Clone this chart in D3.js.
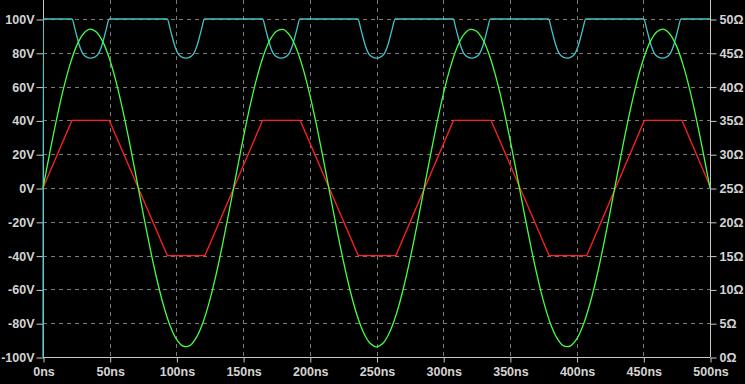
<!DOCTYPE html>
<html>
<head>
<meta charset="utf-8">
<script src="https://cdn.jsdelivr.net/npm/d3@7"></script>
<style>
  html, body { margin: 0; padding: 0; background: #000; }
  svg { display: block; }
  .tick text { font-family: "Liberation Sans", Arial, sans-serif; font-weight: bold; font-size: 12.5px; fill: #d4d4d4; }
</style>
</head>
<body>
<div id="chart"></div>
<script>
// time axis (ns) and the two value axes
const timeTicks = [0, 50, 100, 150, 200, 250, 300, 350, 400, 450, 500];
const voltTicks = [-100, -80, -60, -40, -20, 0, 20, 40, 60, 80, 100];
const ohmTicks = [0, 5, 10, 15, 20, 25, 30, 35, 40, 45, 50];

// green trace: V, sampled every 5ns from 0 to 500ns
const greenStep = 5;
const greenValues = [
  0, 20.5, 40.0, 57.6, 72.4, 83.8, 91.0, 94.0, 92.3, 86.3,
  76.0, 62.2, 45.3, 26.2, 5.9, -14.7, -34.6, -52.8, -68.5, -80.9,
  -89.4, -93.6, -93.3, -88.4, -79.4, -66.5, -50.4, -31.8, -11.8, 8.8,
  29.0, 47.8, 64.3, 77.7, 87.4, 92.8, 93.8, 90.3, 82.4, 70.5,
  55.3, 37.3, 17.6, -3.0, -23.4, -42.7, -59.9, -74.3, -85.1, -91.7,
  -94.0, -91.7, -85.1, -74.3, -59.9, -42.7, -23.4, -3.0, 17.6, 37.3,
  55.3, 70.5, 82.4, 90.3, 93.8, 92.8, 87.4, 77.7, 64.3, 47.8,
  29.0, 8.8, -11.8, -31.8, -50.4, -66.5, -79.4, -88.4, -93.3, -93.6,
  -89.4, -80.9, -68.5, -52.8, -34.6, -14.7, 5.9, 26.2, 45.3, 62.2,
  76.0, 86.3, 92.3, 94.0, 91.0, 83.8, 72.4, 57.6, 40.0, 20.5,
  0
];

// red trace: clipped V, corner points [ns, V]
const redPoints = [
  [0, 0], [21.7, 40], [49.7, 40], [93.2, -40], [121.4, -40],
  [164.6, 40], [192.8, 40], [236.3, -40], [264.5, -40],
  [307.7, 40], [335.9, 40], [379.4, -40], [407.6, -40],
  [450.8, 40], [479.0, 40], [500, 1]
];

// cyan trace: resistance, [ns, ohm]
const cyanPoints = [
  [0, 0], [0.3, 50],
  [21.7, 50], [24.1, 48.4], [27.1, 46.2], [30.1, 44.8], [32.7, 44.35], [35.7, 44.2], [38.7, 44.35], [41.3, 44.8], [44.3, 46.2], [47.3, 48.4], [49.7, 50],
  [93.1, 50], [95.5, 48.4], [98.5, 46.2], [101.5, 44.8], [104.1, 44.35], [107.1, 44.2], [110.1, 44.35], [112.7, 44.8], [115.7, 46.2], [118.7, 48.4], [121.1, 50],
  [164.6, 50], [167.0, 48.4], [170.0, 46.2], [173.0, 44.8], [175.6, 44.35], [178.6, 44.2], [181.6, 44.35], [184.2, 44.8], [187.2, 46.2], [190.2, 48.4], [192.6, 50],
  [236.0, 50], [238.4, 48.4], [241.4, 46.2], [244.4, 44.8], [247.0, 44.35], [250.0, 44.2], [253.0, 44.35], [255.6, 44.8], [258.6, 46.2], [261.6, 48.4], [264.0, 50],
  [307.4, 50], [309.8, 48.4], [312.8, 46.2], [315.8, 44.8], [318.4, 44.35], [321.4, 44.2], [324.4, 44.35], [327.0, 44.8], [330.0, 46.2], [333.0, 48.4], [335.4, 50],
  [378.9, 50], [381.3, 48.4], [384.3, 46.2], [387.3, 44.8], [389.9, 44.35], [392.9, 44.2], [395.9, 44.35], [398.5, 44.8], [401.5, 46.2], [404.5, 48.4], [406.9, 50],
  [450.3, 50], [452.7, 48.4], [455.7, 46.2], [458.7, 44.8], [461.3, 44.35], [464.3, 44.2], [467.3, 44.35], [469.9, 44.8], [472.9, 46.2], [475.9, 48.4], [478.3, 50],
  [500, 50]
];

const width = 745, height = 384;
const plotLeft = 43, plotRight = 710, plotTop = 19, plotBottom = 357;
const axisColor = "#c8c8c8";
const gridColor = "#7a7a7a";

const svg = d3.select("#chart").append("svg")
  .attr("width", width)
  .attr("height", height)
  .style("background", "#000");

const x = d3.scaleLinear().domain([0, 500]).range([plotLeft, plotRight]);
const yV = d3.scaleLinear().domain([-100, 100]).range([plotBottom, plotTop]);
const yR = d3.scaleLinear().domain([0, 50]).range([plotBottom, plotTop]);

// grid
const grid = svg.append("g").attr("stroke", gridColor).attr("stroke-dasharray", "4 4").attr("stroke-width", 1);
grid.selectAll("line.v")
  .data(timeTicks.filter((d) => d > 0 && d < 500))
  .join("line")
  .attr("class", "v")
  .attr("x1", (d) => Math.round(x(d)) + 0.5)
  .attr("x2", (d) => Math.round(x(d)) + 0.5)
  .attr("y1", 0)
  .attr("y2", plotBottom);
grid.selectAll("line.h")
  .data(voltTicks.filter((d) => d > -100))
  .join("line")
  .attr("class", "h")
  .attr("x1", plotLeft)
  .attr("x2", plotRight)
  .attr("y1", (d) => Math.round(yV(d)) + 0.5)
  .attr("y2", (d) => Math.round(yV(d)) + 0.5);

// axes lines
svg.append("line").attr("x1", plotLeft + 0.5).attr("x2", plotLeft + 0.5).attr("y1", 0).attr("y2", plotBottom)
  .attr("stroke", axisColor);
svg.append("line").attr("x1", plotRight + 0.5).attr("x2", plotRight + 0.5).attr("y1", 0).attr("y2", plotBottom)
  .attr("stroke", axisColor);
svg.append("line").attr("x1", plotLeft).attr("x2", plotRight).attr("y1", plotBottom + 0.5).attr("y2", plotBottom + 0.5)
  .attr("stroke", axisColor);

function styleAxis(g) {
  g.select(".domain").remove();
  g.selectAll(".tick line").attr("stroke", axisColor);
}

svg.append("g")
  .attr("transform", `translate(${plotLeft + 0.5},0.5)`)
  .call(d3.axisLeft(yV).tickValues(voltTicks).tickSize(7).tickPadding(2).tickFormat((d) => `${d}V`))
  .call(styleAxis);

svg.append("g")
  .attr("transform", `translate(${plotRight + 0.5},0.5)`)
  .call(d3.axisRight(yR).tickValues(ohmTicks).tickSize(6).tickPadding(3).tickFormat((d) => `${d}Ω`))
  .call(styleAxis);

svg.append("g")
  .attr("transform", `translate(0.5,${plotBottom + 0.5})`)
  .call(d3.axisBottom(x).tickValues(timeTicks).tickSize(5).tickPadding(5).tickFormat((d) => `${d}ns`))
  .call(styleAxis);

// traces
const greenLine = d3.line()
  .x((d, i) => x(i * greenStep))
  .y((d) => yV(d))
  .curve(d3.curveCatmullRom);

const redLine = d3.line()
  .x((d) => x(d[0]))
  .y((d) => yV(d[1]));

const cyanLine = d3.line()
  .x((d) => x(d[0]))
  .y((d) => yR(d[1]))
  .curve(d3.curveMonotoneX);

svg.append("path").datum(cyanPoints)
  .attr("d", cyanLine).attr("fill", "none").attr("stroke", "#40c4c8").attr("stroke-width", 1.3);
svg.append("path").datum(redPoints)
  .attr("d", redLine).attr("fill", "none").attr("stroke", "#ff2020").attr("stroke-width", 1.3);
svg.append("path").datum(greenValues)
  .attr("d", greenLine).attr("fill", "none").attr("stroke", "#44ff44").attr("stroke-width", 1.3);
</script>
</body>
</html>
